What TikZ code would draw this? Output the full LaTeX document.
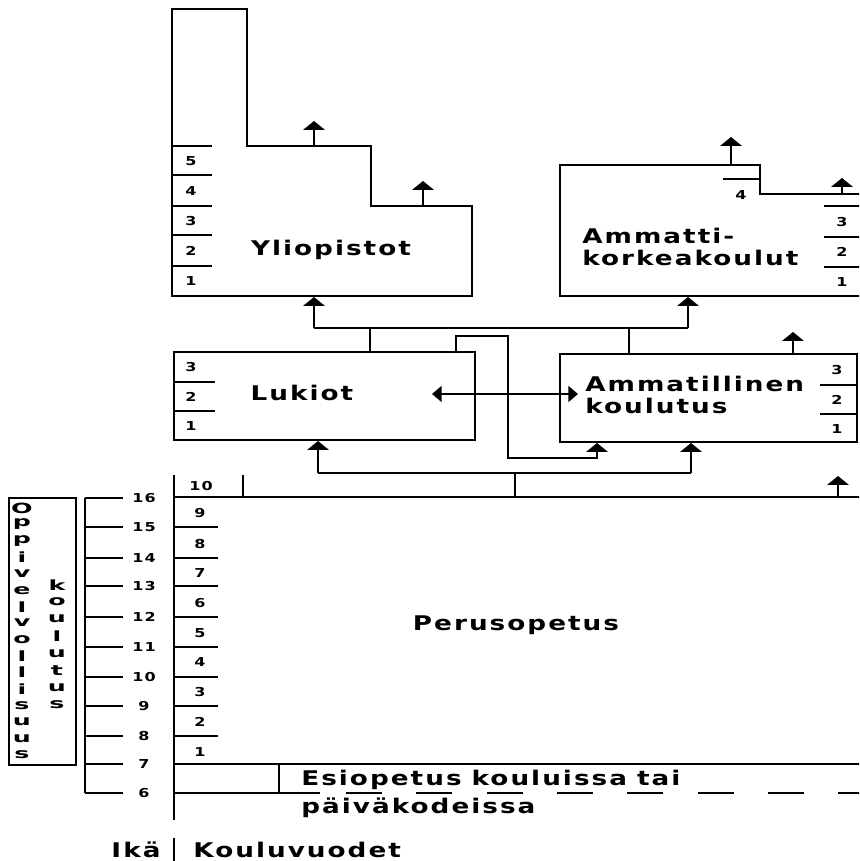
\documentclass[tikz,border=0pt]{standalone}
\usepackage{fontspec}
\setmainfont{DejaVu Sans}
\newfontfamily\heavy{DejaVu Sans Bold}[FakeStretch=1.3, LetterSpace=10, WordSpace=0.9]
\newfontfamily\heavywide{DejaVu Sans Bold}[FakeStretch=1.8]
\usetikzlibrary{arrows.meta}

\tikzset{
	wall/.style={line width=1.25pt, line join=miter},
	up/.style={line width=1.25pt, -{Triangle[width=12pt,length=5pt]}},
	both/.style={line width=1.25pt, {Triangle[width=9pt,length=5.5pt]}-{Triangle[width=9pt,length=5.5pt]}},
	num/.style={font=\fontsize{7}{8}\heavy, inner sep=0pt},
	title/.style={font=\fontsize{11.5}{13}\heavy, align=left, inner sep=0pt},
	letter/.style={font=\fontsize{8}{9}\heavywide, inner sep=0pt},
}

\begin{document}
\begin{tikzpicture}[x=0.02cm, y=-0.02cm]
	\useasboundingbox (0,0) rectangle (859,861);
	\clip (0,0) rectangle (859,861);
	
	\coordinate (yo-a) at (314,146);
	\coordinate (yo-b) at (423,206);
	\coordinate (yo-in) at (314,297);
	\coordinate (amk-a) at (731,165);
	\coordinate (amk-b) at (842,194);
	\coordinate (amk-in) at (688,297);
	\coordinate (lk-top) at (370,352);
	\coordinate (lk-side) at (456,352);
	\coordinate (lk-in) at (318,441);
	\coordinate (am-top) at (629,354);
	\coordinate (am-out) at (793,354);
	\coordinate (am-in) at (597,443);
	\coordinate (am-low) at (691,443);
	\coordinate (po-top) at (515,497);
	\coordinate (po-out) at (838,497);
	
	% Yliopistot
	\draw[wall] (172,9) -- (247,9) -- (247,146) -- (371,146) -- (371,206) -- (472,206) -- (472,296) -- (172,296) -- cycle;
	\foreach \y in {146,175,206,235,266}
		\draw[wall] (172,\y) -- (212,\y);
	\foreach \n/\y in {5/161,4/191,3/221,2/251,1/281}
		\node[num] (yo-\n) at (191,\y) {\n};
	\node[title] (yo) at (331,250) {Yliopistot};
	\draw[up] (yo-a) -- ++(0,-25);
	\draw[up] (yo-b) -- ++(0,-25);
	
	% Ammattikorkeakoulut
	\draw[wall] (865,194) -- (760,194) -- (760,165) -- (560,165) -- (560,296) -- (865,296);
	\draw[wall] (723,179) -- (760,179);
	\node[num] (amk-4) at (741,195) {4};
	\foreach \y in {206,237,267}
		\draw[wall] (824,\y) -- (865,\y);
	\foreach \n/\y in {3/222,2/252,1/282}
		\node[num] (amk-\n) at (842,\y) {\n};
	\node[title, anchor=west] (amk) at (582,247) {Ammatti-\\korkeakoulut};
	\draw[up] (amk-a) -- ++(0,-28);
	\draw[up] (amk-b) -- ++(0,-16);
	
	% Lukiot
	\draw[wall] (174,352) rectangle (475,440);
	\foreach \y in {382,411}
		\draw[wall] (174,\y) -- (215,\y);
	\foreach \n/\y in {3/367,2/397,1/426}
		\node[num] (lk-\n) at (191,\y) {\n};
	\node[title] (lk) at (302,393) {Lukiot};
	
	% Ammatillinen koulutus
	\draw[wall] (560,354) rectangle (857,442);
	\foreach \y in {385,414}
		\draw[wall] (820,\y) -- (857,\y);
	\foreach \n/\y in {3/370,2/400,1/429}
		\node[num] (am-\n) at (837,\y) {\n};
	\node[title, anchor=west] (am) at (585,395) {Ammatillinen\\koulutus};
	\draw[up] (am-out) -- ++(0,-22);
	
	% yhteydet
	\draw[wall] (lk-top) -- (lk-top |- 0,328);
	\draw[wall] (am-top) -- (am-top |- 0,328);
	\draw[up] (yo-in |- 0,328) -- (yo-in);
	\draw[up] (amk-in |- 0,328) -- (amk-in);
	\draw[wall] (yo-in |- 0,328) -- (amk-in |- 0,328);
	\draw[up] (lk-side) -- (456,336) -- (508,336) -- (508,458) -- (am-in |- 0,458) -- (am-in);
	\draw[both] (432,394) -- (578,394);
	\draw[wall] (lk-in |- 0,473) -- (am-low |- 0,473);
	\draw[up] (lk-in |- 0,473) -- (lk-in);
	\draw[up] (am-low |- 0,473) -- (am-low);
	\draw[wall] (po-top |- 0,473) -- (po-top);
	
	% Perusopetus
	\draw[wall] (174,497) -- (865,497);
	\draw[up] (po-out) -- ++(0,-21);
	\draw[wall] (174,475) -- (174,820);
	\draw[wall] (243,475) -- (243,497);
	\foreach \y in {527,558,586,617,647,677,706,736}
		\draw[wall] (174,\y) -- (218,\y);
	\node[num] (po-10) at (201,486) {10};
	\foreach \n/\y in {9/513,8/544,7/573,6/603,5/633,4/662,3/692,2/722,1/752}
		\node[num] (po-\n) at (200,\y) {\n};
	\node[title] (po) at (516,625) {Perusopetus};
	
	% Esiopetus
	\draw[wall] (174,764) -- (865,764);
	\draw[wall] (279,764) -- (279,793);
	\draw[wall] (174,793) -- (320,793);
	\foreach \i in {0,...,7}
		\draw[wall] (346+70.3*\i,793) -- ++(36,0);
	\node[title, anchor=west] (ep) at (301,794) {Esiopetus kouluissa tai\\[3pt]päiväkodeissa};
	
	% Ikä
	\draw[wall] (85,498) -- (85,793);
	\foreach \a/\y in {16/498,15/527,14/558,13/586,12/617,11/647,10/677,9/706,8/736,7/764,6/793} {
		\draw[wall] (85,\y) -- (123,\y);
		\node[num] (age-\a) at (144,\y) {\a};
	}
	
	% Oppivelvollisuus
	\draw[wall] (9,498) rectangle (76,765);
	\foreach \c [count=\k from 0] in {O,p,p,i,v,e,l,v,o,l,l,i,s,u,u,s}
		\node[letter] (ov-\k) at (22,508+16.45*\k) {\c};
	\foreach \c [count=\k from 0] in {k,o,u,l,u,t,u,s}
		\node[letter] (kt-\k) at (57,585+17.1*\k) {\c};
	
	\node[title] (ika) at (136,850) {Ikä};
	\draw[wall] (174,838) -- (174,865);
	\node[title, anchor=west] (kv) at (193,850) {Kouluvuodet};
\end{tikzpicture}
\end{document}
